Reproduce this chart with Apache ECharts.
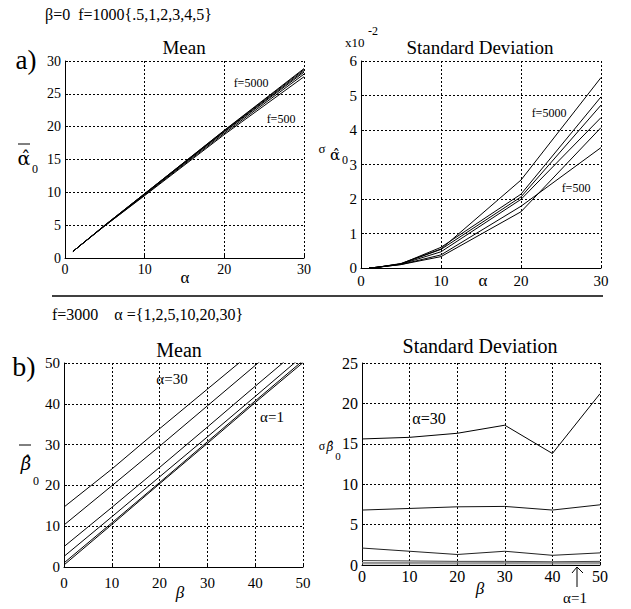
<!DOCTYPE html>
<html>
<head>
<meta charset="utf-8">
<script src="https://cdn.jsdelivr.net/npm/echarts@6/dist/echarts.min.js"></script>
<style>html,body{margin:0;padding:0;background:#fff}#c{width:631px;height:609px}</style>
</head>
<body>
<div id="c"></div>
<script>
// ---------- data ----------
// panel a: beta = 0, alpha on x, one line per f
const alphaA = [1, 2, 5, 10, 20, 30];
const fNames = ['f=500', 'f=1000', 'f=2000', 'f=3000', 'f=4000', 'f=5000'];
const meanA500  = [1, 2, 4.9, 9.5, 18.8, 27.6];
const meanA1000 = [1, 2, 4.9, 9.6, 19.0, 28.0];
const meanA2000 = [1, 2, 4.95, 9.7, 19.2, 28.3];
const meanA3000 = [1, 2, 4.95, 9.75, 19.3, 28.5];
const meanA4000 = [1, 2, 5, 9.8, 19.4, 28.7];
const meanA5000 = [1, 2, 5, 9.8, 19.45, 28.85];
// standard deviation, units of 1e-2
const sdA500  = [0, 0.02, 0.1, 0.38, 1.79, 3.49];
const sdA1000 = [0, 0.02, 0.1, 0.33, 1.63, 4.07];
const sdA2000 = [0, 0.02, 0.11, 0.47, 1.99, 4.36];
const sdA3000 = [0, 0.02, 0.12, 0.54, 2.06, 4.72];
const sdA4000 = [0, 0.02, 0.12, 0.6, 2.14, 4.96];
const sdA5000 = [0, 0.02, 0.13, 0.55, 2.55, 5.52];
// panel b: f = 3000, beta on x, one line per alpha
const betaB = [0, 10, 20, 30, 40, 50];
const alphaNames = ['\u03b1=1', '\u03b1=2', '\u03b1=5', '\u03b1=10', '\u03b1=20', '\u03b1=30'];
const meanB1  = [0.5, 10.4, 20.4, 30.3, 40.3, 50.1];
const meanB2  = [1.0, 10.8, 20.7, 30.7, 40.7, 50.6];
const meanB5  = [2.6, 12.3, 22.1, 31.9, 41.8, 51.8];
const meanB10 = [5.0, 14.6, 24.4, 34.3, 44.3, 54.2];
const meanB20 = [10.3, 19.9, 29.6, 39.5, 49.4, 59.3];
const meanB30 = [14.7, 24.0, 33.9, 43.6, 53.3, 63.0];
const sdB1  = [0.15, 0.15, 0.14, 0.15, 0.14, 0.15];
const sdB2  = [0.3, 0.3, 0.28, 0.3, 0.28, 0.3];
const sdB5  = [0.55, 0.5, 0.45, 0.45, 0.4, 0.45];
const sdB10 = [2.1, 1.7, 1.3, 1.7, 1.2, 1.5];
const sdB20 = [6.8, 7.0, 7.2, 7.25, 6.8, 7.45];
const sdB30 = [15.6, 15.8, 16.3, 17.3, 13.8, 21.2];

// ---------- helpers ----------
const FONT = 'Liberation Serif';
const GREEK = 'DejaVu Serif';
const pairs = (xs, ys) => xs.map((x, i) => [x, ys[i]]);
function mkSeries(name, xs, ys, idx, color) {
  return {
    name: name, type: 'line', xAxisIndex: idx, yAxisIndex: idx,
    data: pairs(xs, ys), symbol: 'none', clip: true, silent: true,
    lineStyle: { color: color || '#000', width: 1 }, animation: false
  };
}
function xAx(idx, max, fs, margin) {
  return {
    type: 'value', gridIndex: idx, min: 0, max: max, interval: 10,
    axisLine: { show: true, onZero: false, lineStyle: { color: '#000', width: 1 } },
    axisTick: { show: true, inside: true, length: 3, lineStyle: { color: '#000' } },
    axisLabel: { color: '#000', fontFamily: FONT, fontSize: fs, margin: margin },
    splitLine: { show: true, lineStyle: { color: '#000', width: 1, type: [2, 2] } }
  };
}
function yAx(idx, max, interval, fs, margin) {
  return {
    type: 'value', gridIndex: idx, min: 0, max: max, interval: interval,
    axisLine: { show: true, onZero: false, lineStyle: { color: '#000', width: 1 } },
    axisTick: { show: true, inside: true, length: 3, lineStyle: { color: '#000' } },
    axisLabel: { color: '#000', fontFamily: FONT, fontSize: fs, margin: margin },
    splitLine: { show: true, lineStyle: { color: '#000', width: 1, type: [2, 2] } }
  };
}
function txt(x, y, s, fs, align, italic, family) {
  return {
    type: 'text', x: x, y: y, silent: true,
    style: { text: s, fill: '#000', fontFamily: family || FONT, fontSize: fs, fontStyle: italic ? 'italic' : 'normal',
             textAlign: align || 'center', textVerticalAlign: 'middle' }
  };
}
function seg(x1, y1, x2, y2, w) {
  return { type: 'line', silent: true, shape: { x1: x1, y1: y1, x2: x2, y2: y2 }, style: { stroke: '#000', lineWidth: w || 1 } };
}

const meanAList = [meanA500, meanA1000, meanA2000, meanA3000, meanA4000, meanA5000];
const sdAList = [sdA500, sdA1000, sdA2000, sdA3000, sdA4000, sdA5000];
const meanBList = [meanB1, meanB2, meanB5, meanB10, meanB20, meanB30];
const sdBList = [sdB1, sdB2, sdB5, sdB10, sdB20, sdB30];
const sdBColors = ['#777', '#888', '#444', '#222', '#111', '#000'];

const series = [];
meanAList.forEach((d, i) => series.push(mkSeries(fNames[i], alphaA, d, 0)));
sdAList.forEach((d, i) => series.push(mkSeries(fNames[i], alphaA, d, 1)));
meanBList.forEach((d, i) => series.push(mkSeries(alphaNames[i], betaB, d, 2)));
sdBList.forEach((d, i) => series.push(mkSeries(alphaNames[i], betaB, d, 3, sdBColors[i])));

const chart = echarts.init(document.getElementById('c'), null, { renderer: 'svg' });
chart.setOption({
  backgroundColor: '#fff',
  animation: false,
  grid: [
    { left: 65, top: 61, width: 239, height: 197 },
    { left: 361, top: 61, width: 240, height: 207 },
    { left: 64, top: 363, width: 239, height: 204 },
    { left: 362, top: 363, width: 238, height: 202 }
  ],
  xAxis: [xAx(0, 30, 14, 4), xAx(1, 30, 15, 5), xAx(2, 50, 15, 8), xAx(3, 50, 16, 3)],
  yAxis: [yAx(0, 30, 5, 14, 4), yAx(1, 6, 1, 15, 4), yAx(2, 50, 10, 15, 4), yAx(3, 25, 5, 16, 4)],
  series: series,
  graphic: [
    // header texts
    txt(45, 14, '\u03b2=0  f=1000{.5,1,2,3,4,5}', 16, 'left'),
    txt(26, 60, 'a)', 27),
    txt(184, 47, 'Mean', 19),
    txt(480, 47, 'Standard Deviation', 19),
    txt(345, 42, 'x10', 13, 'left'),
    txt(368, 31, '-2', 12, 'left'),
    // separator
    seg(52, 296, 603, 296, 1.5),
    txt(52, 314, 'f=3000    \u03b1 ={1,2,5,10,20,30}', 16, 'left'),
    txt(24, 366, 'b)', 28),
    txt(179, 350, 'Mean', 20),
    txt(480, 346, 'Standard Deviation', 20),
    // axis names
    txt(185, 277, '\u03b1', 17),
    txt(483, 280, '\u03b1', 17),
    txt(180, 592, '\u03b2', 17, 'center', true),
    txt(480, 588, '\u03b2', 17, 'center', true),
    // y label a-mean
    seg(18, 144, 30, 144, 1),
    txt(24, 158, '\u03b1\u0302', 19, 'center', false, GREEK),
    txt(35, 169, '0', 12),
    // y label a-sd
    txt(322, 148, '\u03c3', 13),
    txt(335, 155, '\u03b1\u0302', 15, 'center', false, GREEK),
    txt(345, 160, '0', 12),
    // y label b-mean
    seg(19, 445, 31, 445, 1),
    txt(26, 463, '\u03b2\u0302', 18, 'center', true, GREEK),
    txt(36, 481, '0', 12),
    // y label b-sd
    txt(322, 446, '\u03c3', 12),
    txt(330, 447, '\u03b2\u0302', 12, 'center', true, GREEK),
    txt(338, 456, '0', 11),
    // annotations
    txt(251, 83, 'f=5000', 12),
    txt(281, 119, 'f=500', 12),
    txt(549, 113, 'f=5000', 12),
    txt(576, 188, 'f=500', 12),
    txt(172, 379, '\u03b1=30', 15),
    txt(272, 417, '\u03b1=1', 15),
    txt(429, 418, '\u03b1=30', 16),
    // arrow
    seg(577, 567, 577, 587, 1),
    seg(577, 567, 572, 573, 1),
    seg(577, 567, 583, 573, 1),
    txt(575, 598, '\u03b1=1', 15)
  ]
});
</script>
</body>
</html>
